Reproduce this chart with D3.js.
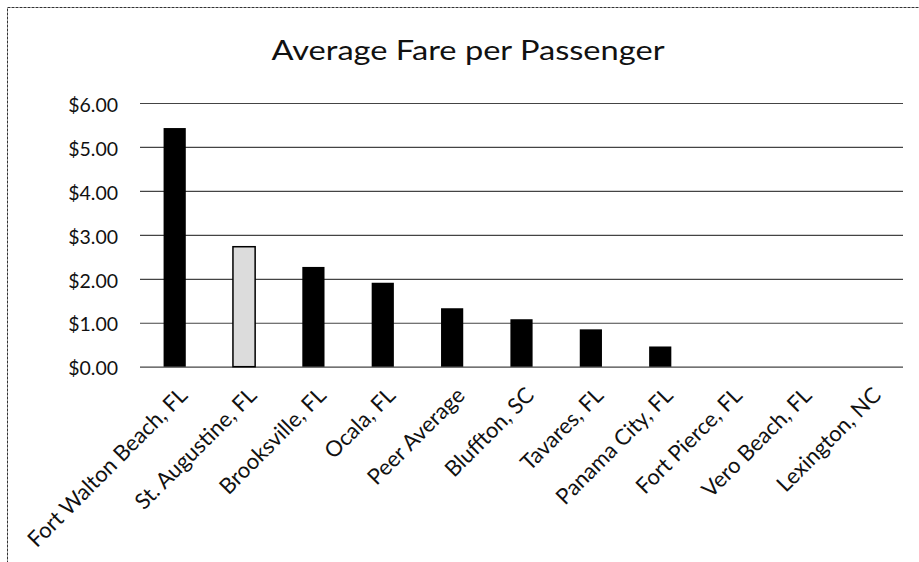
<!DOCTYPE html>
<html><head><meta charset="utf-8">
<script src="https://cdn.jsdelivr.net/npm/d3@7"></script>
<style>html,body{margin:0;padding:0;background:#fff;}svg{display:block;}</style>
</head><body>
<svg id="c" width="919" height="562"></svg>
<script>
const categories = ["Fort Walton Beach, FL","St. Augustine, FL","Brooksville, FL","Ocala, FL","Peer Average","Bluffton, SC","Tavares, FL","Panama City, FL","Fort Pierce, FL","Vero Beach, FL","Lexington, NC"];
const values = [5.43, 2.73, 2.27, 1.91, 1.33, 1.08, 0.85, 0.46, 0, 0, 0];
const highlight = ["St. Augustine, FL"];
const yTicks = [0,1,2,3,4,5,6];
const title = "Average Fare per Passenger";

const font = "Lato, 'Open Sans', sans-serif";
const svg = d3.select("#c");
svg.append("rect").attr("x",7.5).attr("y",7.5).attr("width",930).attr("height",600)
  .attr("fill","none").attr("stroke","#333").attr("stroke-width",1).attr("stroke-dasharray","3,1");

const x = d3.scaleBand().domain(categories).range([140,903]).paddingInner(0.68).paddingOuter(0.34);
const y = d3.scaleLinear().domain([0,6]).range([366.7,103]);

svg.append("text").attr("x",468).attr("y",60).attr("text-anchor","middle")
  .attr("font-family",font).attr("font-size",26).attr("fill","#111")
  .attr("textLength",393).attr("lengthAdjust","spacingAndGlyphs").text(title);

const yAxis = d3.axisLeft(y).tickValues(yTicks).tickSize(-(903-140)).tickFormat(d=>"$"+d3.format(".2f")(d)).tickPadding(22);
const gy = svg.append("g").attr("transform","translate(140,0)").call(yAxis);
gy.select(".domain").remove();
gy.selectAll(".tick line").attr("stroke","#444").attr("stroke-width",1.2);
gy.selectAll(".tick text").attr("font-family",font).attr("font-size",19.5).attr("fill","#111").attr("dy","0.42em");

svg.append("g").selectAll("rect").data(categories).join("rect")
  .attr("x",d=>x(d)).attr("width",x.bandwidth())
  .attr("y",(d,i)=>y(values[i])).attr("height",(d,i)=>y(0)-y(values[i]))
  .attr("fill",d=>highlight.includes(d)?"#dcdcdc":"#000")
  .attr("stroke","#000").attr("stroke-width",d=>highlight.includes(d)?1.5:0);

const xAxis = d3.axisBottom(x).tickSize(0).tickPadding(0);
const gx = svg.append("g").attr("transform",`translate(0,${y(0)})`).call(xAxis);
gx.select(".domain").remove();
gx.selectAll(".tick text")
  .attr("font-family",font).attr("font-size",22).attr("fill","#111")
  .attr("text-anchor","end").attr("dy",0)
  .attr("transform","translate(14,30) rotate(-45)");
</script>
</body></html>
